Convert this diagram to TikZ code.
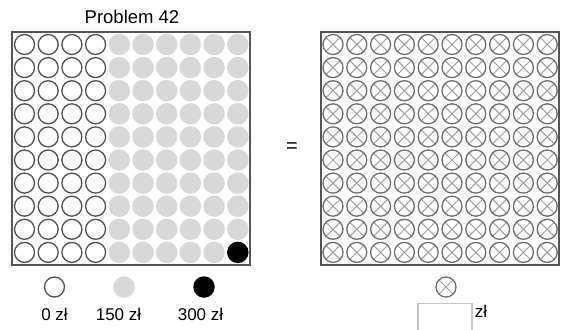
\documentclass[tikz,border=0pt]{standalone}
\usepackage{fontspec}
\setmainfont{Liberation Sans}
\definecolor{ringc}{HTML}{505050}
\definecolor{boxc}{HTML}{555555}
\definecolor{fillc}{HTML}{D8D8D8}
\definecolor{xring}{HTML}{6E6E6E}
\definecolor{xcross}{HTML}{A0A0A0}
\definecolor{ansbox}{HTML}{C4C4C4}
\tikzset{
  frame/.style={draw=boxc, line width=1.1pt},
  emptyc/.style={circle, draw=ringc, line width=1.3pt, fill=white, minimum size=20pt, inner sep=0pt},
  grayc/.style={circle, fill=fillc, minimum size=21.5pt, inner sep=0pt},
  blackc/.style={circle, fill=black, minimum size=21.5pt, inner sep=0pt},
  crossc/.style={circle, draw=xring, line width=1.3pt, minimum size=20pt, inner sep=0pt,
    path picture={\draw[xcross, line width=1pt] (path picture bounding box.north west) -- (path picture bounding box.south east)
      (path picture bounding box.north east) -- (path picture bounding box.south west);}},
  lbl/.style={anchor=base, inner sep=0pt, font=\fontsize{17pt}{19pt}\selectfont},
}
\begin{document}
\begin{tikzpicture}[x=1pt,y=1pt]
\useasboundingbox (0,0) rectangle (564,-329);
\node[anchor=base, inner sep=0pt, font=\fontsize{18.5pt}{21pt}\selectfont] (title) at (132,-23.3) {Problem 42};
\draw[frame] (12,-32) rectangle (250,-265);
\draw[frame] (321,-32) rectangle (559,-265);
\foreach \i in {0,...,9}{
  \foreach \j in {0,...,9}{
    \pgfmathsetmacro{\cx}{24.5+23.7*\i}
    \pgfmathsetmacro{\cy}{-(44.5+23.1*\j)}
    \pgfmathsetmacro{\rx}{333+23.8*\i}
    \ifnum\i<4
      \node[emptyc] (l-\i-\j) at (\cx,\cy) {};
    \else
      \ifnum\i=9 \ifnum\j=9
        \node[blackc] (l-\i-\j) at (\cx,\cy) {};
      \else
        \node[grayc] (l-\i-\j) at (\cx,\cy) {};
      \fi
      \else
        \node[grayc] (l-\i-\j) at (\cx,\cy) {};
      \fi
    \fi
    \node[crossc] (r-\i-\j) at (\rx,\cy) {};
  }
}
\node[inner sep=0pt, font=\fontsize{20pt}{22pt}\selectfont] (eq) at (292,-148) {=};
\node[emptyc] (leg0) at (54.5,-287) {};
\node[grayc] (leg1) at (124,-287) {};
\node[blackc] (leg2) at (204,-287) {};
\node[lbl] (t0) at (54.5,-320) {0 zł};
\node[lbl] (t1) at (118.5,-320) {150 zł};
\node[lbl] (t2) at (200.5,-320) {300 zł};
\node[crossc] (legx) at (446,-287) {};
\draw[ansbox, line width=1.5pt] (418,-333) |- (472,-303.5) -- (472,-333);
\node[lbl] (tz) at (481,-317) {zł};
\end{tikzpicture}
\end{document}
